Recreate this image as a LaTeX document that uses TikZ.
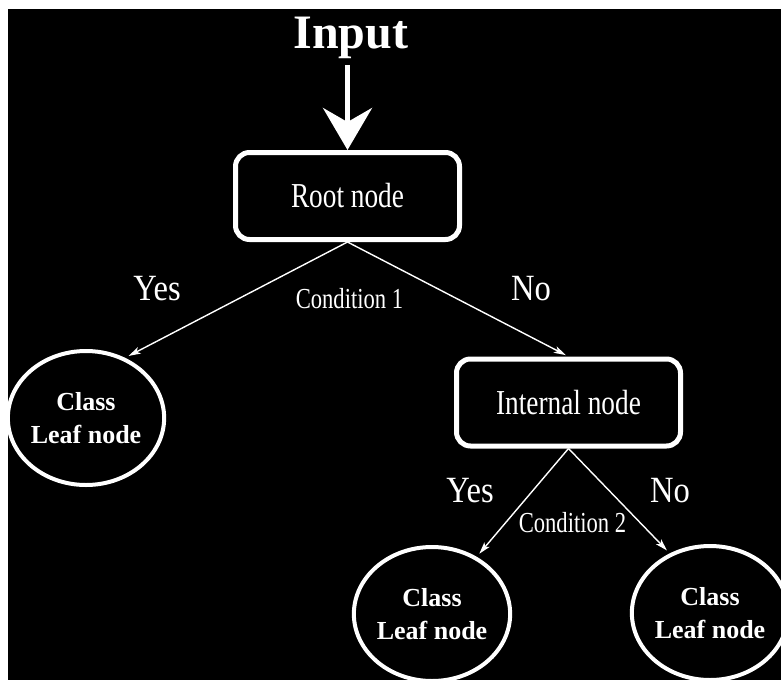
\documentclass[tikz,border=0pt]{standalone}
\usepackage{fontspec}
\setmainfont{Liberation Serif}
\newfontfamily\condfont[FakeStretch=0.78]{Liberation Serif}
\newfontfamily\ynfont[FakeStretch=0.88]{Liberation Serif}
\usetikzlibrary{shapes.geometric,arrows.meta}
\begin{document}
\begin{tikzpicture}[x=1pt,y=-1pt,
  box/.style={draw=white, line width=5pt, rounded corners=14pt, minimum width=224pt, minimum height=87pt, inner sep=0pt, text=white, font=\condfont\fontsize{35}{40}\selectfont},
  leaf/.style={draw=white, ellipse, line width=4pt, minimum width=146pt, minimum height=134pt, inner sep=0pt, text=white, align=center, font=\bfseries\fontsize{26}{33}\selectfont},
  cond/.style={text=white, inner sep=0pt, font=\condfont\fontsize{29}{34}\selectfont},
  yn/.style={text=white, inner sep=0pt, font=\ynfont\fontsize{37}{40}\selectfont},
  conn/.style={draw=white, line width=1.4pt, -{Stealth[length=12pt,width=7pt,inset=3pt]}, shorten >=4pt}]
\useasboundingbox (0,0) rectangle (781,680);
\fill[white] (0,0) rectangle (781,680);
\fill[black] (8,9) rectangle (781,680);
% nodes
\node[text=white, anchor=base, inner sep=0pt, font=\bfseries\fontsize{48}{52}\selectfont] (input) at (351,48) {Input};
\node[box] (root) at (347.5,196) {Root node};
\node[box] (internal) at (568.5,402.5) {Internal node};
\node[leaf, minimum width=150pt] (leafA) at (86,418) {Class\\Leaf node};
\node[leaf] (leafB) at (432,614) {Class\\Leaf node};
\node[leaf] (leafC) at (710,613) {Class\\Leaf node};
% labels
\node[yn] (yes1) at (157,288.5) {Yes};
\node[yn] (no1) at (531,288.5) {No};
\node[cond] (c1) at (349.5,298.5) {Condition 1};
\node[yn] (yes2) at (470,490.5) {Yes};
\node[yn] (no2) at (670,490.5) {No};
\node[cond] (c2) at (572.5,523) {Condition 2};
% connectors
\draw[white, line width=4.5pt, shorten <=6.5pt, -{Stealth[length=42pt,width=49pt,inset=14pt]}] (input.south -| root.north) -- (root.north);
\draw[conn] (root.south) -- (leafA.57);
\draw[conn, shorten >=3pt] (root.south) -- (internal.north);
\draw[conn] (internal.south) -- (leafB.52);
\draw[conn] (internal.south) -- (leafC.124);
\end{tikzpicture}
\end{document}
